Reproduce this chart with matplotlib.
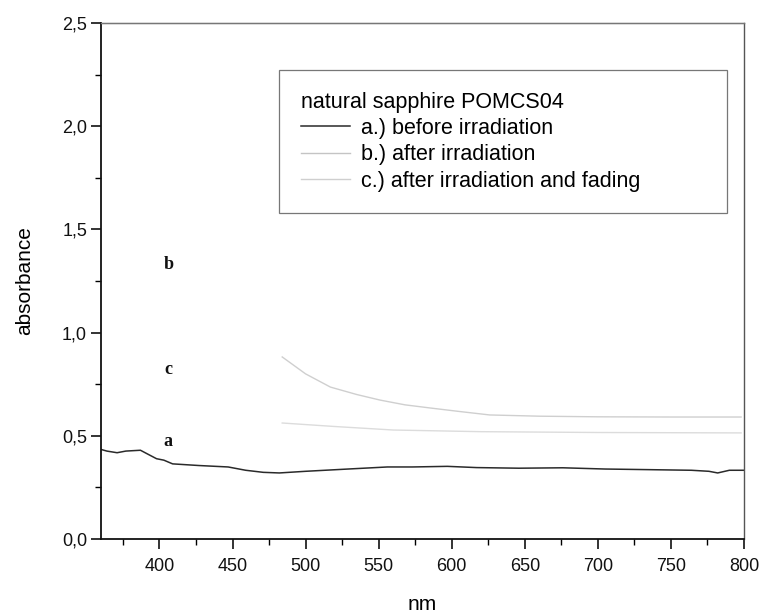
import matplotlib
matplotlib.use("Agg")
import matplotlib.pyplot as plt
from matplotlib.ticker import MultipleLocator

# ---- data ----
wl_a = [360, 364, 371, 377, 387, 391, 398, 403, 409, 427, 447, 459, 471, 482,
        500, 529, 556, 573, 597, 617, 646, 676, 705, 735, 764, 776, 782, 790, 800]
abs_a = [0.434, 0.426, 0.418, 0.426, 0.430, 0.415, 0.389, 0.382, 0.364, 0.356,
         0.349, 0.333, 0.323, 0.320, 0.328, 0.339, 0.349, 0.349, 0.352, 0.346,
         0.343, 0.345, 0.339, 0.336, 0.333, 0.328, 0.320, 0.333, 0.333]

wl_b = [360, 800]
abs_b = [2.5, 2.5]

wl_c = [484, 500, 517, 535, 551, 568, 585, 605, 626, 660, 700, 750, 798]
abs_c = [0.882, 0.80, 0.736, 0.700, 0.673, 0.650, 0.635, 0.618, 0.601, 0.595,
         0.592, 0.591, 0.591]

wl_d = [484, 520, 560, 620, 700, 798]
abs_d = [0.562, 0.545, 0.528, 0.520, 0.516, 0.514]

x_ticks = [400, 450, 500, 550, 600, 650, 700, 750, 800]
y_ticks = [0.0, 0.5, 1.0, 1.5, 2.0, 2.5]
y_tick_labels = ["0,0", "0,5", "1,0", "1,5", "2,0", "2,5"]

legend_title = "natural sapphire POMCS04"
legend_labels = ["a.) before irradiation", "b.) after irradiation",
                 "c.) after irradiation and fading"]
curve_letters = ["a", "b", "c"]
letter_pos = [(406, 0.47), (406, 1.33), (406, 0.82)]

# ---- figure ----
plt.rcParams['font.family'] = ['Liberation Sans', 'DejaVu Sans']
fig = plt.figure(figsize=(7.63, 6.16), dpi=100)
W, H = 763, 616
l, r, t, b = 101, 744, 23, 539
ax = fig.add_axes([l / W, (H - b) / H, (r - l) / W, (b - t) / H])

la, = ax.plot(wl_a, abs_a, color='#2a2a2a', lw=1.1)
lb, = ax.plot(wl_b, abs_b, color='#c4c4c4', lw=1.0, clip_on=False)
lc, = ax.plot(wl_c, abs_c, color='#cfcfcf', lw=1.0)
ax.plot(wl_d, abs_d, color='#dcdcdc', lw=1.0)

ax.set_xlim(360, 800)
ax.set_ylim(0, 2.5)
ax.set_xticks(x_ticks)
ax.set_yticks(y_ticks)
ax.set_yticklabels(y_tick_labels)
ax.xaxis.set_minor_locator(MultipleLocator(25))
ax.yaxis.set_minor_locator(MultipleLocator(0.25))
ax.tick_params(which='major', direction='out', length=7, width=1.2,
               labelsize=13, colors='#111111')
ax.tick_params(which='minor', direction='out', length=4.5, width=1.0)
ax.tick_params(axis='x', which='major', pad=7)
ax.tick_params(axis='y', which='major', pad=3)
for s in ['left', 'bottom']:
    ax.spines[s].set_linewidth(1.3)
    ax.spines[s].set_color('#111111')
ax.spines['top'].set_linewidth(1.0)
ax.spines['top'].set_color('#777777')
ax.spines['right'].set_linewidth(1.0)
ax.spines['right'].set_color('#555555')

ax.set_xlabel("nm", fontsize=15, labelpad=14)
ax.set_ylabel("absorbance", fontsize=15, labelpad=20)

for letter, (xp, yp) in zip(curve_letters, letter_pos):
    ax.text(xp, yp, letter, fontsize=13, fontweight='bold',
            family='Liberation Serif', ha='center', va='center', color='#111111')

x0 = (279 - l) / (r - l)
x1 = (727 - l) / (r - l)
ytop = (b - 70) / (b - t)
leg = ax.legend([la, lb, lc], legend_labels, title=legend_title,
                loc='upper left', bbox_to_anchor=(x0, ytop, x1 - x0, 0.0),
                mode='expand', fontsize=15.5, title_fontsize=15.5,
                frameon=True, fancybox=False, handlelength=2.3,
                handletextpad=0.5, labelspacing=0.25, borderpad=1.0,
                borderaxespad=0)
leg._legend_box.align = "left"
leg.get_frame().set_edgecolor('#555555')
leg.get_frame().set_linewidth(0.9)

fig.savefig("out.png", dpi=100)
